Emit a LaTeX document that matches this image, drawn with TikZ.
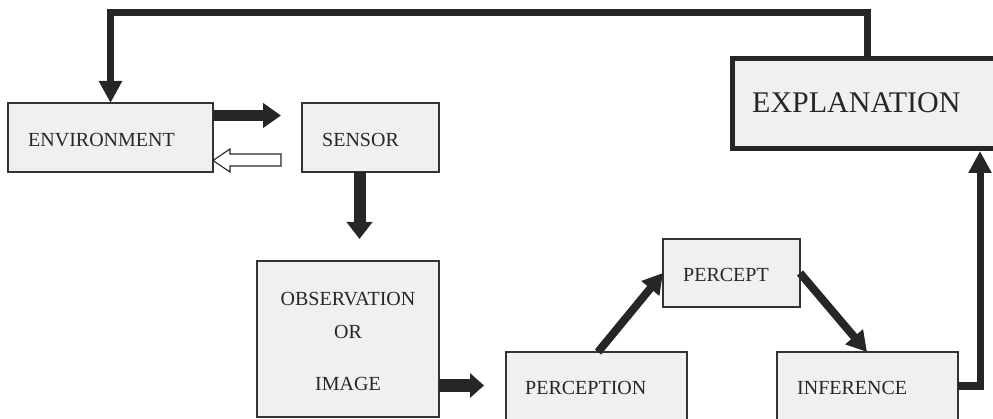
\documentclass[tikz,border=0pt]{standalone}
\usepackage{fontspec}
\setmainfont{Liberation Serif}
\usetikzlibrary{arrows.meta,calc}
\definecolor{ink}{HTML}{262626}
\definecolor{edge}{HTML}{333333}
\definecolor{boxfill}{HTML}{F0F0F0}
\tikzset{
  box/.style={draw=edge, line width=1.3pt, fill=boxfill, inner sep=0pt, outer sep=0pt, anchor=north west},
  lbl/.style={inner sep=0pt, font=\fontsize{20}{24}\selectfont, text=ink},
  biglbl/.style={inner sep=0pt, font=\fontsize{30}{36}\selectfont, text=ink},
  fat/.style={draw=ink, line cap=butt, line width=#1},
  flow/.style={draw=ink, line width=7pt, line cap=butt, line join=miter,
    -{Triangle[width=22pt,length=22pt]}},
  slant/.style={draw=ink, line width=8pt, line cap=butt,
    -{Triangle[width=22pt,length=20pt]}},
  hollowarrow/.style={draw=ink, line width=1.1pt, fill=white, line join=miter}
}
\begin{document}
\begin{tikzpicture}[x=1pt,y=-1pt]
\useasboundingbox (0,0) rectangle (993,419);
\clip (0,0) rectangle (993,419);

% boxes
\node[box, minimum width=205pt, minimum height=69pt] (env) at (8,103) {};
\node[box, minimum width=137pt, minimum height=69pt] (sensor) at (302,103) {};
\node[box, minimum width=182pt, minimum height=156pt] (obs) at (257,261) {};
\node[box, minimum width=181pt, minimum height=80pt] (perc) at (506,352) {};
\node[box, minimum width=137pt, minimum height=68pt] (percept) at (663,239) {};
\node[box, minimum width=181pt, minimum height=80pt] (inf) at (777,352) {};
\node[box, draw=ink, line width=5pt, minimum width=300pt, minimum height=90pt] (expl) at (732.5,58.5) {};

% labels
\node[lbl, anchor=base west] (envtxt) at (28,147) {ENVIRONMENT};
\node[lbl, anchor=base west] (sensortxt) at (322,147) {SENSOR};
\node[lbl, anchor=base] (obstxt) at (348,306) {OBSERVATION};
\node[lbl, anchor=base] (ortxt) at (348,339) {OR};
\node[lbl, anchor=base] (imgtxt) at (348,391) {IMAGE};
\node[lbl, anchor=base west] (perctxt) at (525,395) {PERCEPTION};
\node[lbl, anchor=base west] (percepttxt) at (683,282) {PERCEPT};
\node[lbl, anchor=base west] (inftxt) at (797,395) {INFERENCE};
\node[biglbl, anchor=base west] (expltxt) at (752,113) {EXPLANATION};

% free ends of the block arrows
\coordinate (tipES) at (281,115.5);
\coordinate (tipSO) at (359.5,239);
\coordinate (tipOP) at (484,385.5);
\coordinate (tipH) at (env.east |- 0,160.5);

% environment -> sensor
\draw[fat=11pt, -{Triangle[width=24pt,length=18pt]}] (env.east |- tipES) -- (tipES);
% sensor -> environment (hollow)
\draw[hollowarrow] (tipH) -- ++(17,-11.5) -- ++(0,5) -- ++(51,0) -- ++(0,12)
  -- ++(-51,0) -- ++(0,6) -- cycle;
% sensor -> observation
\draw[fat=12pt, -{Triangle[width=25pt,length=17pt]}] (sensor.south -| tipSO) -- (tipSO);
% observation -> perception
\draw[fat=13pt, -{Triangle[width=24pt,length=14pt]}] (obs.east |- tipOP) -- (tipOP);

% perception -> percept -> inference
\draw[slant] (perc.north -| 598,0) -- (percept.west |- 0,273);
\draw[slant] (percept.east |- 0,273) -- (inf.north -| 867,0);

% inference -> explanation
\draw[flow] (inf.east |- 0,386) -| (980,151);
% explanation -> environment (feedback)
\draw[flow] (expl.north -| 867,0) ++(0,-2.5) |- (110.5,13) -- (env.north -| 110.5,0);
\end{tikzpicture}
\end{document}
